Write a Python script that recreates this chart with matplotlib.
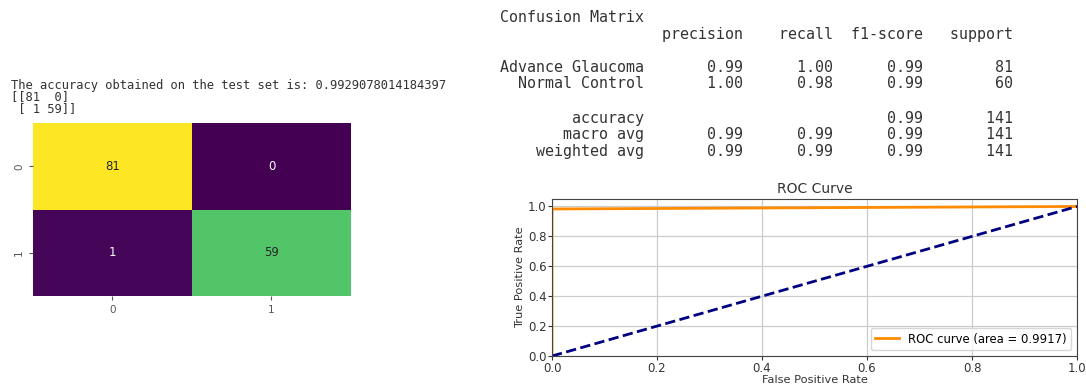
import numpy as np
import matplotlib
matplotlib.use("Agg")
import matplotlib.pyplot as plt
import seaborn as sns

# confusion matrix / test results
cm = [[81, 0], [1, 59]]
test_accuracy = 0.9929078014184397

# classification report
class_names = ["Advance Glaucoma", "Normal Control"]
precision = [0.99, 1.00]
recall = [1.00, 0.98]
f1_score = [0.99, 0.99]
support = [81, 60]
accuracy = 0.99
macro_avg = [0.99, 0.99, 0.99]
weighted_avg = [0.99, 0.99, 0.99]
total_support = 141

# roc curve
fpr = [0.0, 0.0, 1.0]
tpr = [0.0, 0.9833, 1.0]
roc_auc = 0.9917

TXT = "#333333"
W, H = 1086, 387


def report_lines():
    width = max(len(n) for n in class_names)
    head = "{:>{w}s} ".format("", w=width) + "".join(" {:>9}".format(h) for h in ["precision", "recall", "f1-score", "support"])
    row = "{:>{w}s} " + " {:>9.2f}" * 3 + " {:>9}"
    lines = ["Confusion Matrix", head, ""]
    for i, name in enumerate(class_names):
        lines.append(row.format(name, precision[i], recall[i], f1_score[i], support[i], w=width))
    lines.append("")
    lines.append("{:>{w}s} ".format("accuracy", w=width) + " " * 20 + " {:>9.2f} {:>9}".format(accuracy, total_support))
    lines.append(row.format("macro avg", *macro_avg, total_support, w=width))
    lines.append(row.format("weighted avg", *weighted_avg, total_support, w=width))
    return lines


fig = plt.figure(figsize=(W / 100, H / 100), dpi=100)

# left side: printed output + heatmap
printed = ["The accuracy obtained on the test set is: {}".format(test_accuracy),
           "[[{:2d} {:2d}]".format(cm[0][0], cm[0][1]),
           " [{:2d} {:2d}]]".format(cm[1][0], cm[1][1])]
for line, y in zip(printed, [85, 97, 109]):
    fig.text(11 / W, 1 - y / H, line, family="DejaVu Sans Mono", fontsize=8.7,
             color=TXT, va="center", ha="left")

ax1 = fig.add_axes([33 / W, (H - 296) / H, 318 / W, 173 / H])
sns.heatmap(np.array(cm), annot=True, fmt="d", cmap="viridis", cbar=False, ax=ax1,
            annot_kws={"fontsize": 8.5})
ax1.tick_params(labelsize=7.5, colors="#555555", length=3)
for lbl in ax1.get_yticklabels():
    lbl.set_rotation(90)

# right side: classification report
ys = [18, 35, 51, 68, 84, 101, 118, 135, 152]
for line, y in zip(report_lines(), ys):
    if line:
        fig.text(500 / W, 1 - y / H, line, family="DejaVu Sans Mono", fontsize=10.8,
                 color=TXT, va="center", ha="left")

# roc curve
ax2 = fig.add_axes([552 / W, (H - 356) / H, 525 / W, 157 / H])
ax2.plot(fpr, tpr, color="darkorange", lw=2, label="ROC curve (area = {:.4f})".format(roc_auc))
ax2.plot([0, 1], [0, 1], color="navy", lw=2, linestyle="--")
ax2.set_xlim([0.0, 1.0])
ax2.set_ylim([0.0, 1.05])
ax2.set_xlabel("False Positive Rate", fontsize=8.2, color=TXT, labelpad=0)
ax2.set_ylabel("True Positive Rate", fontsize=8.2, color=TXT, labelpad=2)
ax2.set_title("ROC Curve", fontsize=10, color=TXT, pad=4)
ax2.tick_params(labelsize=8.5, colors=TXT, length=3, pad=1)
ax2.grid(True, color="#cccccc", lw=0.9)
for s in ax2.spines.values():
    s.set_color("#444444")
ax2.legend(loc="lower right", fontsize=8.4, frameon=True)

fig.savefig("out.png", dpi=100)
